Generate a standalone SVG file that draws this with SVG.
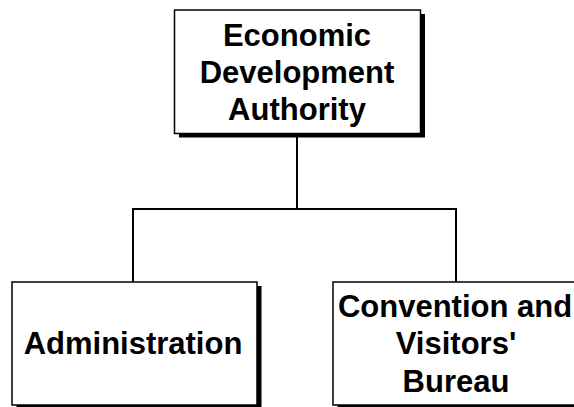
<svg xmlns="http://www.w3.org/2000/svg" width="574" height="407" viewBox="0 0 574 407">
<style>
.box{fill:#fff;stroke:#000;stroke-width:1.5}
.shadow{fill:#000}
.lbl{font-family:"Liberation Sans",Arial,sans-serif;font-weight:bold;font-size:31px;fill:#000;text-anchor:middle}
.conn{fill:none;stroke:#000;stroke-width:2}
</style>
<rect width="574" height="407" fill="#fff"/>
<g id="connectors">
<path class="conn" d="M297 136V209M133 209H456M133 208V283M456 208V283"/>
</g>
<g id="eda">
<rect class="shadow" x="179" y="14" width="246" height="123.5"/>
<rect class="box" x="174.5" y="10" width="246" height="123.5"/>
<text class="lbl" x="297" y="45.5">Economic</text>
<text class="lbl" x="297" y="82.5">Development</text>
<text class="lbl" x="297" y="119.5">Authority</text>
</g>
<g id="administration">
<rect class="shadow" x="16.5" y="286" width="245" height="123"/>
<rect class="box" x="12" y="282" width="245" height="123"/>
<text class="lbl" x="133" y="353.5">Administration</text>
</g>
<g id="convention">
<rect class="shadow" x="337.5" y="286" width="248" height="123"/>
<rect class="box" x="333" y="282" width="248" height="123"/>
<text class="lbl" x="455" y="316.5">Convention and</text>
<text class="lbl" x="456" y="354">Visitors'</text>
<text class="lbl" x="456" y="391.5">Bureau</text>
</g>
</svg>
